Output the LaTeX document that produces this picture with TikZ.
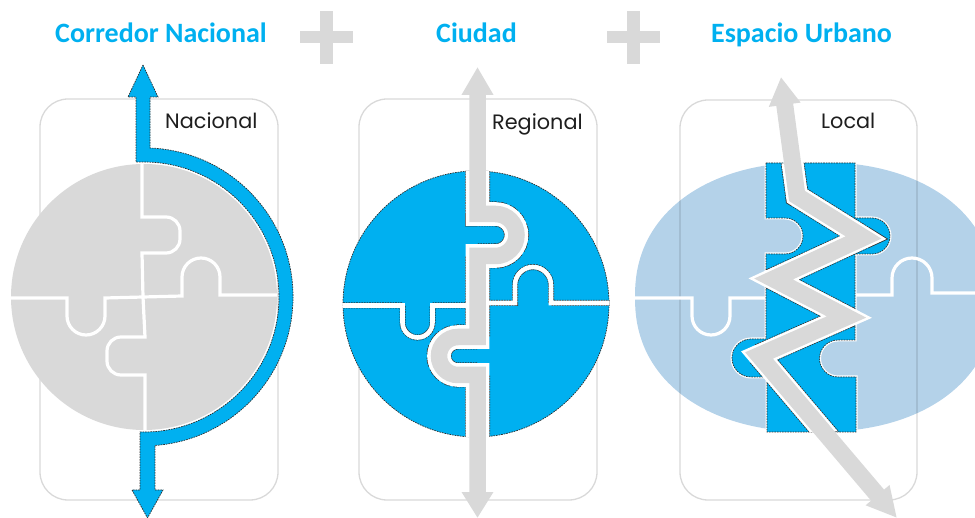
\documentclass[tikz,border=0pt]{standalone}
\usepackage{fontspec}
\setmainfont{Carlito}
\newfontfamily\gothicfont{Poppins}
\usetikzlibrary{arrows.meta}

\definecolor{cyanblue}{RGB}{0,176,240}
\definecolor{pale}{RGB}{217,217,217}
\definecolor{skyfill}{RGB}{180,210,233}
\definecolor{ink}{RGB}{30,30,30}
\definecolor{edge}{RGB}{45,45,45}

\tikzset{
  title/.style={font=\bfseries\fontsize{28}{28}\selectfont, text=cyanblue, anchor=base, inner sep=0pt},
  tag/.style={font=\gothicfont\fontsize{20.8}{21}\selectfont, text=ink, anchor=base west, inner sep=0pt},
  frame/.style={draw=black, draw opacity=0.15, line width=1.3pt, rounded corners=28pt},
  dashedge/.style={draw=edge, line width=0.7pt, dash pattern=on 1.6pt off 1pt},
  darkgap/.style={draw=edge, dash pattern=on 1.6pt off 1pt},
  seam/.style={draw=white, line width=3.2pt},
  plusbar/.style={fill=pale},
}

% route of the regional arrow through the city puzzle
\newcommand\routeCity{(477.5,67) -- (477.5,214) -- (495.5,214) arc[start angle=-90,end angle=90,radius=21] -- (477.5,256) -- (477.5,337) -- (458,337) arc[start angle=-90,end angle=-270,radius=19] -- (477.5,375) -- (477.5,518)}
% horizontal seam of the city puzzle
\newcommand\seamCity{(338,305.5) -- (402.5,305.5) -- (402.5,322.5) arc[start angle=180,end angle=0,radius=15] -- (432.5,305.5) -- (478,305.5) (478,303) -- (515,303) -- (515,285) arc[start angle=180,end angle=360,radius=18] -- (551,303) -- (615,303)}
% central piece of the urban puzzle
\newcommand\stripPath{(766,163) -- (855,163) -- (855,218) -- (872,218) arc[start angle=-90,end angle=90,radius=18] -- (855,254) -- (855,340) -- (838,340) arc[start angle=-90,end angle=-270,radius=18.5] -- (856,377) -- (856,432) -- (767,432) -- (767,377) -- (751,377) arc[start angle=90,end angle=270,radius=19] -- (766,339) -- (766,254) -- (785,254) arc[start angle=90,end angle=-90,radius=18] -- (766,218) -- cycle}
% zigzag of the local arrow
\newcommand\zigPath{(781,77) -- (797,196) -- (863.5,237.5) -- (773.5,279) -- (846.5,317) -- (759,355.5) -- (897,518)}
% rounded (slightly super-elliptic) outline of the urban space
\newcommand\urbanShape{plot[domain=0.5:89.5,samples=45] ({815+180*pow(cos(\x),0.9)},{297+135*pow(sin(\x),0.9)})
  -- plot[domain=90.5:179.5,samples=45] ({815-180*pow(-cos(\x),0.9)},{297+135*pow(sin(\x),0.9)})
  -- plot[domain=180.5:269.5,samples=45] ({815-180*pow(-cos(\x),0.9)},{297-135*pow(-sin(\x),0.9)})
  -- plot[domain=270.5:359.5,samples=45] ({815+180*pow(cos(\x),0.9)},{297-135*pow(-sin(\x),0.9)}) -- cycle}

\begin{document}
\begin{tikzpicture}[x=1pt, y=-1pt, line join=miter]
\useasboundingbox (0,0) rectangle (975,518);

% ---------- headings and plus signs ----------
\node[title] (tnac) at (161,43) {Corredor Nacional};
\node[title] (tciu) at (476.5,43) {Ciudad};
\node[title] (turb) at (801.5,43) {Espacio Urbano};

\path[plusbar] (320,11) rectangle (333,64);
\path[plusbar] (300,31.5) rectangle (353,43.5);
\path[plusbar] (626.5,11) rectangle (639.5,64);
\path[plusbar] (606.5,31.5) rectangle (659.5,43.5);

% ---------- panel 1: national corridor ----------
\draw[frame] (40,99) rectangle (278,500);
\fill[pale] (144,297) circle[radius=133];
\begin{scope}
  \clip (144,297) circle[radius=133];
  \draw[seam] (142,160) -- (142,217) -- (166,217) arc[start angle=-90,end angle=0,radius=14] -- (180,239) arc[start angle=0,end angle=90,radius=14] -- (142,253) -- (143,297) -- (145,337) -- (121,337) arc[start angle=-90,end angle=-180,radius=14] -- (107,361) arc[start angle=180,end angle=90,radius=14] -- (145,375) -- (145,440);
  \draw[seam] (5,298) -- (67,298) -- (67,316) arc[start angle=180,end angle=0,radius=19] -- (105,298) -- (143,297) -- (182,296) -- (182,277) arc[start angle=180,end angle=360,radius=19] -- (220,295) -- (285,295);
\end{scope}
\path[fill=cyanblue, dashedge] (143,65) -- (158,97) -- (150,97) -- (150,148)
  arc[start angle=-87.7,end angle=85.8,radius=149] -- (155,490) -- (163,490) -- (147.5,518) -- (132,490) -- (140,490) -- (140,432) -- (144,432)
  arc[start angle=90,end angle=-90,radius=135] -- (136,162) -- (136,97) -- (128,97) -- cycle;
\node[tag] (lnac) at (165,129) {Nacional};

% ---------- panel 2: city ----------
\draw[frame] (359,99) rectangle (597,500);
\fill[cyanblue] (476,304) circle[radius=133];
\draw[dashedge] (476,304) circle[radius=133];
\begin{scope}
  \clip (476,304) circle[radius=133.6];
  \draw[darkgap, line width=6pt] \seamCity;
  \draw[darkgap, line width=25pt] \routeCity;
  \draw[white, line width=4.6pt] \seamCity;
  \draw[white, line width=23.6pt] \routeCity;
\end{scope}
\draw[pale, line width=16.5pt, {Triangle[width=30pt,length=28pt]}-{Triangle[width=30pt,length=26pt]}] \routeCity;
\node[tag] (lreg) at (492,130) {Regional};

% ---------- panel 3: urban space ----------
\fill[skyfill] \urbanShape;
\draw[frame] (680,100) rectangle (917,500);
\begin{scope}
  \clip \urbanShape;
  \draw[seam] (630,298) -- (692,298) -- (692,316) arc[start angle=180,end angle=0,radius=19] -- (730,298) -- (768,298);
  \draw[seam] (853,295) -- (892,295) -- (892,278) arc[start angle=180,end angle=360,radius=20] -- (932,293) -- (995,293);
\end{scope}
\draw[white, line width=3pt] \stripPath;
\path[fill=cyanblue, dashedge] \stripPath;
\begin{scope}
  \clip \stripPath;
  \draw[darkgap, line width=23.6pt] \zigPath;
\end{scope}
\begin{scope}
  \clip \urbanShape;
  \draw[white, line width=22pt] \zigPath;
\end{scope}
\draw[pale, line width=17pt, {Triangle[width=30pt,length=28pt]}-{Triangle[width=29pt,length=30pt]}] \zigPath;
\node[tag] (lloc) at (821,129) {Local};
\end{tikzpicture}
\end{document}
